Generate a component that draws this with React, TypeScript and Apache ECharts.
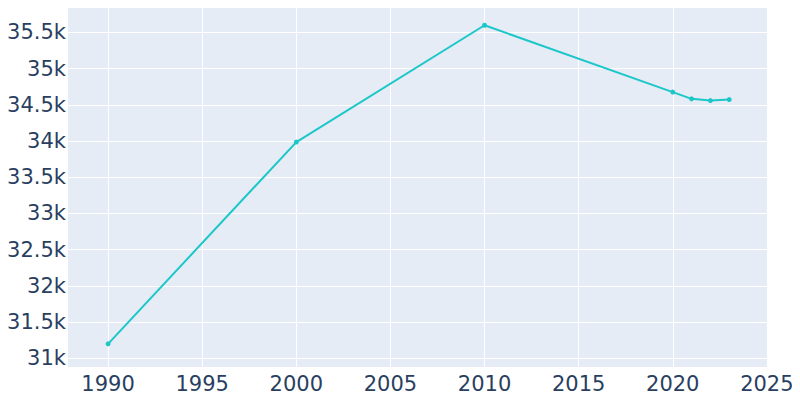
import React, { useEffect, useRef } from "react";
import * as echarts from "echarts";

const years = [1990, 2000, 2010, 2020, 2021, 2022, 2023];
const population = [31200, 33985, 35598, 34675, 34582, 34558, 34572];
const xTicks = [1990, 1995, 2000, 2005, 2010, 2015, 2020, 2025];
const yTicks = [31000, 31500, 32000, 32500, 33000, 33500, 34000, 34500, 35000, 35500];

const fmtK = (v: number) => {
  const k = v / 1000;
  return (Number.isInteger(k) ? String(k) : k.toFixed(1)) + "k";
};

export default function App() {
  const ref = useRef<HTMLDivElement>(null);
  useEffect(() => {
    if (!ref.current) return;
    const chart = echarts.init(ref.current, undefined, { renderer: "svg" });
    const font = "DejaVu Sans";
    chart.setOption({
      animation: false,
      backgroundColor: "#ffffff",
      grid: {
        left: 68,
        right: 32,
        top: 3,
        bottom: 33,
        backgroundColor: "#E5ECF6",
        show: true,
        borderWidth: 0,
      },
      xAxis: {
        type: "value",
        min: 1987.87,
        max: 2025.06,
        axisLine: { show: false },
        axisTick: { show: false, customValues: xTicks },
        axisLabel: {
          customValues: xTicks,
          fontFamily: font,
          fontSize: 21,
          color: "#2a3f5f",
          margin: 6,
          formatter: (v: number) => String(v),
        },
        splitLine: { show: true, lineStyle: { color: "#ffffff", width: 1 } },
      },
      yAxis: {
        type: "value",
        min: 30880,
        max: 35905,
        axisLine: { show: false },
        axisTick: { show: false, customValues: yTicks },
        axisLabel: {
          customValues: yTicks,
          fontFamily: font,
          fontSize: 21,
          color: "#2a3f5f",
          margin: 2,
          formatter: (v: number) => fmtK(v),
        },
        splitLine: { show: true, lineStyle: { color: "#ffffff", width: 1 } },
      },
      series: [
        {
          type: "line",
          data: years.map((y, i) => [y, population[i]]),
          symbol: "circle",
          symbolSize: 5,
          lineStyle: { color: "#1cc7c9", width: 2 },
          itemStyle: { color: "#1cc7c9" },
        },
      ],
    });
    return () => chart.dispose();
  }, []);
  return <div ref={ref} style={{ width: 800, height: 400, margin: -8 }} />;
}
